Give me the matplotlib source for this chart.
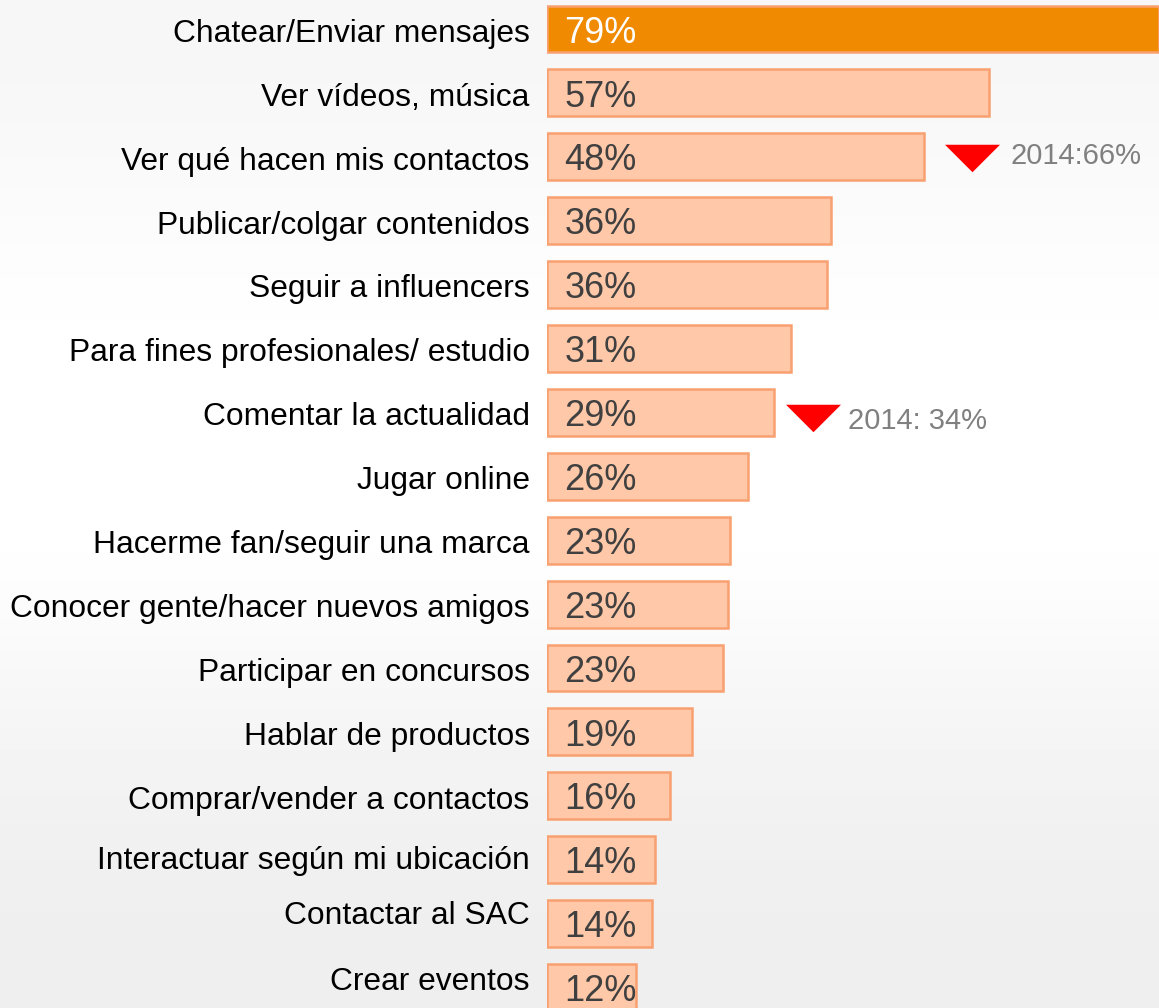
import numpy as np
import matplotlib.pyplot as plt

plt.rcParams['font.family'] = ['Liberation Sans', 'DejaVu Sans']

categories = [
    "Chatear/Enviar mensajes", "Ver vídeos, música", "Ver qué hacen mis contactos",
    "Publicar/colgar contenidos", "Seguir a influencers", "Para fines profesionales/ estudio",
    "Comentar la actualidad", "Jugar online", "Hacerme fan/seguir una marca",
    "Conocer gente/hacer nuevos amigos", "Participar en concursos", "Hablar de productos",
    "Comprar/vender a contactos", "Interactuar según mi ubicación", "Contactar al SAC",
    "Crear eventos",
]
values = [79, 57, 48.7, 36.6, 36.2, 31.5, 29.3, 26, 23.6, 23.4, 22.7, 18.7, 15.9, 14, 13.6, 11.5]
value_labels = ["79%", "57%", "48%", "36%", "36%", "31%", "29%", "26%", "23%", "23%",
                "23%", "19%", "16%", "14%", "14%", "12%"]

# 2014 comparison notes: (row index, marker x, text x, text)
notes_idx = [2, 6]
notes_marker_x = [54.8, 34.4]
notes_text_x = [59.8, 38.9]
notes_text = ["2014:66%", "2014: 34%"]

# small upward drift of the last labels in the original (pixels)
label_shift = [0] * 13 + [4, 12, 10]

W, H = 1159, 1008
fig = plt.figure(figsize=(W / 100, H / 100), dpi=100)

# background gradient
bg = fig.add_axes([0, 0, 1, 1], zorder=0)
grad = np.array([0.935, 0.94, 0.955, 0.975, 1.0, 1.0, 1.0, 0.99, 0.975, 0.965]).reshape(-1, 1)
bg.imshow(grad, aspect='auto', cmap='gray', vmin=0, vmax=1,
          extent=[0, 1, 0, 1], interpolation='bicubic', origin='lower')
bg.axis('off')

ax = fig.add_axes([547 / W, 0, 612 / W, 1], zorder=1)
ax.patch.set_alpha(0)
y = np.arange(len(values))
colors = ['#F08A00'] + ['#FFC8A8'] * (len(values) - 1)
ax.barh(y, values, height=0.735, color=colors, edgecolor='#F8A070', linewidth=1.8)

ax.set_xlim(0, 79)
ax.set_ylim((H - 29) / 63.9, -29 / 63.9)

for i, (v, lab) in enumerate(zip(values, value_labels)):
    ax.annotate(lab, (0, i), xytext=(12.5, -3), textcoords='offset points',
                ha='left', va='center', fontsize=26,
                color='white' if i == 0 else '#404040')

for i, (cat, s) in enumerate(zip(categories, label_shift)):
    ax.annotate(cat, (0, i), xytext=(-12.5, -3.5 + s * 0.72), textcoords='offset points',
                ha='right', va='center', fontsize=22.9, color='black',
                annotation_clip=False)

tri = [(-1, 0.5), (1, 0.5), (0, -0.5)]
for idx, mx, tx, t in zip(notes_idx, notes_marker_x, notes_text_x, notes_text):
    dy = 0.02 if idx == 2 else 0.09
    ax.plot(mx, idx + dy, marker=tri, markersize=39.6, color='#FF0000', markeredgewidth=0)
    ax.text(tx, idx - 0.02 if idx == 2 else idx + 0.13, t, ha='left', va='center',
            fontsize=21, color='#808080')

ax.axis('off')
fig.savefig('out.png', dpi=100)
